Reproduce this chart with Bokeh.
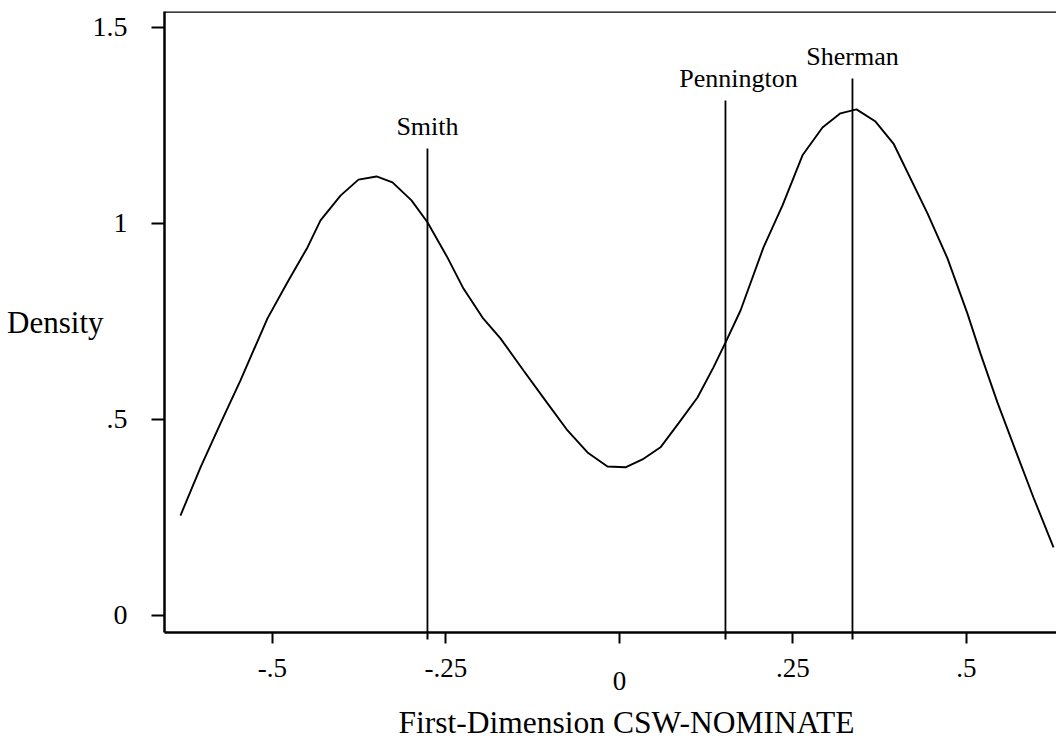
from bokeh.plotting import figure
from bokeh.models import ColumnDataSource, FixedTicker, Range1d, Span, Title
from bokeh.core.properties import value
from bokeh.embed import file_html
from bokeh.resources import INLINE

# ---- data ----
curve_x = [-0.6326, -0.6037, -0.5749, -0.5461, -0.5072, -0.4784, -0.4496, -0.4308,
           -0.4020, -0.3761, -0.3501, -0.3271, -0.2997, -0.2767, -0.2478, -0.2248,
           -0.1974, -0.1715, -0.1383, -0.1037, -0.0749, -0.0461, -0.0173, 0.0086,
           0.0331, 0.0591, 0.0850, 0.1124, 0.1354, 0.1527, 0.1744, 0.2075,
           0.2349, 0.2637, 0.2925, 0.3184, 0.3415, 0.3689, 0.3948, 0.4438,
           0.4726, 0.5014, 0.5202, 0.5447, 0.5735, 0.5965, 0.6254]
curve_y = [0.255, 0.378, 0.490, 0.600, 0.758, 0.850, 0.939, 1.008,
           1.071, 1.112, 1.120, 1.105, 1.059, 1.003, 0.913, 0.834,
           0.760, 0.707, 0.625, 0.541, 0.472, 0.416, 0.380, 0.378,
           0.398, 0.429, 0.490, 0.556, 0.633, 0.696, 0.778, 0.939,
           1.046, 1.174, 1.245, 1.281, 1.291, 1.260, 1.204, 1.026,
           0.911, 0.770, 0.668, 0.543, 0.408, 0.301, 0.174]

names = ["Smith", "Pennington", "Sherman"]
name_x = [-0.2767, 0.1527, 0.3357]
name_top = [1.191, 1.314, 1.370]

x_ticks = [-0.5, -0.25, 0, 0.25, 0.5]
x_tick_labels = ["-.5", "-.25", "0", ".25", ".5"]
y_ticks = [0, 0.5, 1, 1.5]
y_tick_labels = ["0", ".5", "1", "1.5"]

x_title = "First-Dimension CSW-NOMINATE"
y_title = "Density"

# ---- figure ----
FONT = "Liberation Serif"
X0, X1 = -0.6556, 0.6297
Y0, Y1 = -0.0434, 1.5408

p = figure(width=1056, height=744, output_backend="svg", toolbar_location=None,
           x_range=Range1d(X0, X1), y_range=Range1d(Y0, Y1),
           min_border_left=164, min_border_right=0, min_border_top=11,
           min_border_bottom=112)
p.grid.visible = False
p.outline_line_color = None
p.background_fill_color = "white"
p.border_fill_color = "white"

# x axis (the "0" label sits lower in the reference: second line of a 2-line label)
xa = p.xaxis[0]
xa.ticker = FixedTicker(ticks=x_ticks, minor_ticks=name_x)
overrides = {t: l for t, l in zip(x_ticks, x_tick_labels)}
overrides[0] = "\n" + x_tick_labels[2]
xa.major_label_overrides = overrides
xa.major_label_text_line_height = 0.45
xa.axis_line_width = 2.5
xa.axis_line_color = "black"
xa.major_tick_out = 11
xa.major_tick_in = 0
xa.major_tick_line_width = 2
xa.minor_tick_out = 7
xa.minor_tick_in = 0
xa.minor_tick_line_width = 2
xa.major_label_text_font = FONT
xa.major_label_text_font_size = "27px"
xa.major_label_text_color = "black"
xa.major_label_standoff = 9

# y axis
ya = p.yaxis[0]
ya.ticker = FixedTicker(ticks=y_ticks)
ya.major_label_overrides = {t: l for t, l in zip(y_ticks, y_tick_labels)}
ya.axis_line_width = 2.5
ya.axis_line_color = "black"
ya.major_tick_out = 13
ya.major_tick_in = 0
ya.major_tick_line_width = 2
ya.minor_tick_line_color = None
ya.major_label_text_font = FONT
ya.major_label_text_font_size = "28px"
ya.major_label_text_color = "black"
ya.major_label_standoff = 24
ya.axis_label = y_title
ya.axis_label_orientation = "horizontal"
ya.axis_label_standoff = -14
ya.axis_label_text_font = FONT
ya.axis_label_text_font_size = "31px"
ya.axis_label_text_font_style = "normal"
ya.axis_label_text_color = "black"

# x title below the axis
p.add_layout(Title(text=x_title, align="left", offset=234, text_font=FONT,
                   text_font_size="31.5px", text_font_style="normal",
                   text_color="black", standoff=6), "below")

# top border line
p.add_layout(Span(location=Y1, dimension="width", line_color="black", line_width=2.5))

# density curve
p.line(curve_x, curve_y, line_color="black", line_width=1.9)

# vertical reference lines with names
src = ColumnDataSource(dict(
    x=name_x,
    top=name_top,
    bottom=[Y0] * len(name_x),
    ly=[t + 0.057 for t in name_top],
    text=names,
    xoff=[0, 13, 0],
))
p.segment(x0="x", y0="bottom", x1="x", y1="top", source=src,
          line_color="black", line_width=1.8)
p.text(x="x", y="ly", text="text", x_offset="xoff", source=src,
       text_font=value(FONT), text_font_size="26px", text_color="black",
       text_align="center", text_baseline="alphabetic")

open("out.html", "w").write(file_html(p, INLINE))
